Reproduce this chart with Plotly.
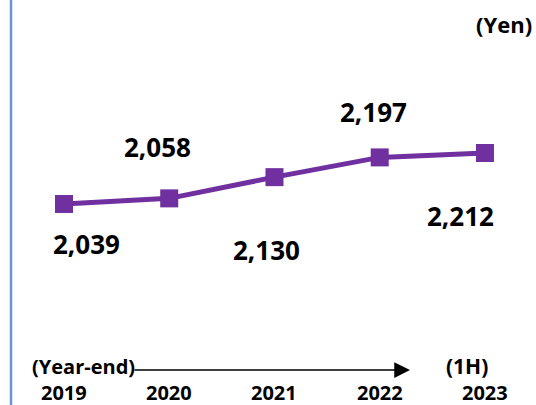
import plotly.graph_objects as go

years = ["2019", "2020", "2021", "2022", "2023"]
values = [2039, 2058, 2130, 2197, 2212]
value_labels = ["2,039", "2,058", "2,130", "2,197", "2,212"]
label_shift_x = [23, -12, -8, -6, -24]
label_shift_y = [-40, 51, -73, 45, -63]

W, H = 536, 405
FONT = "Open Sans"
PURPLE = "#7030A0"

xs = list(range(len(years)))

fig = go.Figure()
fig.add_trace(go.Scatter(
    x=xs, y=values, mode="lines+markers",
    line=dict(color=PURPLE, width=5),
    marker=dict(symbol="square", size=18, color=PURPLE),
    hoverinfo="skip", showlegend=False,
))

ann = []
for i, (v, t) in enumerate(zip(values, value_labels)):
    ann.append(dict(x=i, y=v, xref="x", yref="y", text=f"<b>{t}</b>", showarrow=False,
                    xanchor="center", yanchor="middle",
                    xshift=label_shift_x[i], yshift=label_shift_y[i],
                    font=dict(family=FONT, size=26, color="black")))
for i, yr in enumerate(years):
    ann.append(dict(x=i, y=1 - 392 / H, xref="x", yref="paper", text=f"<b>{yr}</b>",
                    xanchor="center", yanchor="middle",
                    showarrow=False, font=dict(family=FONT, size=20, color="black")))
ann.append(dict(x=83 / W, y=1 - 366 / H, xref="paper", yref="paper", text="<b>(Year-end)</b>",
                xanchor="center", yanchor="middle",
                showarrow=False, font=dict(family=FONT, size=20, color="black")))
ann.append(dict(x=467 / W, y=1 - 366 / H, xref="paper", yref="paper", text="<b>(1H)</b>",
                xanchor="center", yanchor="middle",
                showarrow=False, font=dict(family=FONT, size=21, color="black")))
ann.append(dict(x=534 / W, y=1 - 24 / H, xref="paper", yref="paper", text="<b>(Yen)</b>",
                xanchor="right", yanchor="middle",
                showarrow=False, font=dict(family=FONT, size=22, color="black")))
# arrow
ann.append(dict(x=410 / W, y=1 - 370 / H, ax=-277, ay=0,
                xref="paper", yref="paper", axref="pixel", ayref="pixel",
                text="", showarrow=True, arrowhead=2, arrowsize=2.1, arrowwidth=1.5,
                arrowcolor="black"))

fig.add_shape(type="line", xref="paper", yref="paper", x0=11 / W, x1=11 / W, y0=0, y1=1,
              line=dict(color="#6A95D2", width=2.5))

fig.update_layout(
    width=W, height=H, margin=dict(l=0, r=0, t=0, b=0),
    paper_bgcolor="white", plot_bgcolor="white",
    xaxis=dict(range=[-0.608, 4.485], visible=False, fixedrange=True),
    yaxis=dict(range=[1357, 2731], visible=False, fixedrange=True),
    annotations=ann,
)
fig.write_html("out.html")
